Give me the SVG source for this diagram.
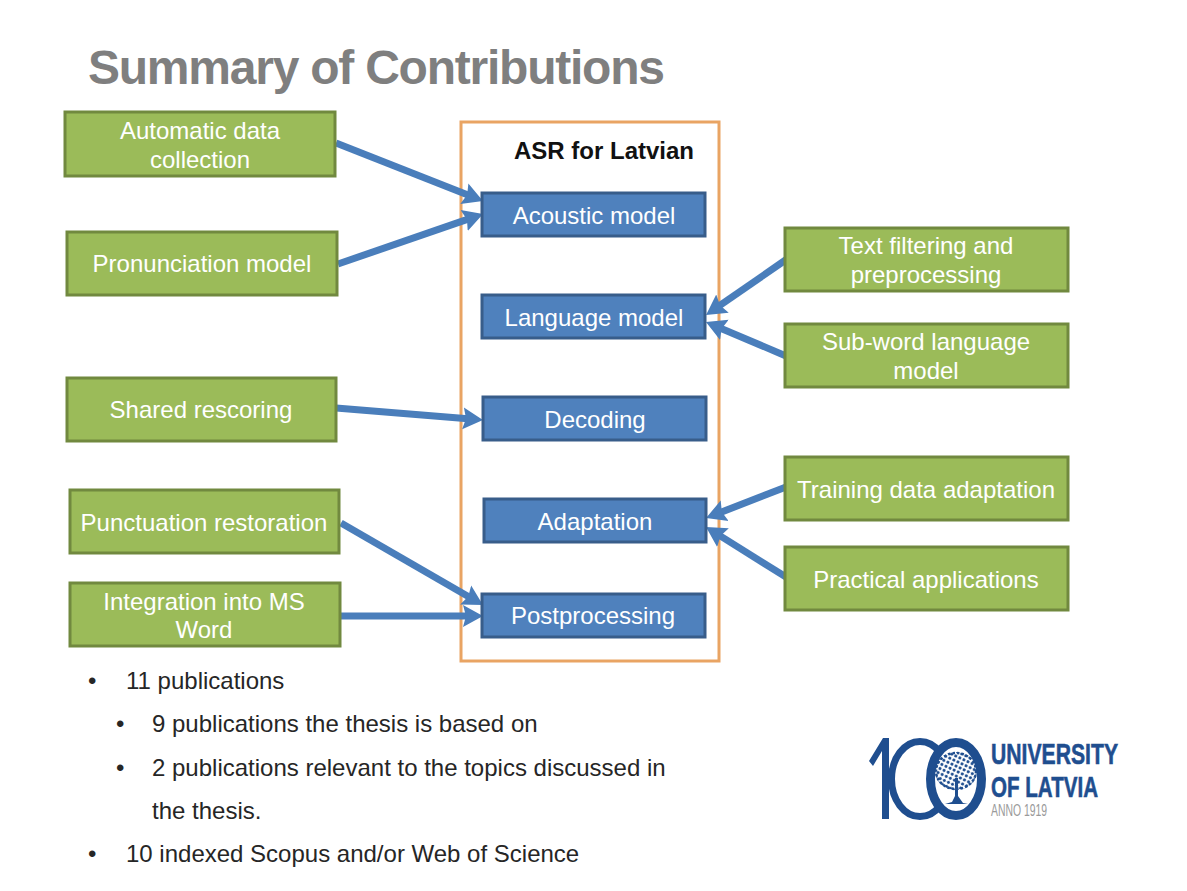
<svg xmlns="http://www.w3.org/2000/svg" width="1187" height="891" viewBox="0 0 1187 891">
<style>
text{font-family:"Liberation Sans",Arial,sans-serif}
.g{fill:#9bbb59;stroke:#71893f;stroke-width:3}
.b{fill:#4f81bd;stroke:#385d8a;stroke-width:3}
.wt{fill:#fff;font-size:24px;text-anchor:middle}
.bt{fill:#262626;font-size:24px}
.c{fill:none;stroke:#4a7ebb;stroke-width:7}
.lg{fill:#1f4e8f}
</style>
<defs>
<marker id="ah" markerUnits="userSpaceOnUse" markerWidth="24" markerHeight="26" refX="8" refY="12" orient="auto"><path d="M0 1L20 12L0 23L3 12Z" fill="#4a7ebb"/></marker>
<pattern id="leaf" width="4.5" height="4.5" patternUnits="userSpaceOnUse" patternTransform="rotate(25)"><circle cx="2.2" cy="2.2" r="1.55" fill="#1f4e8f"/></pattern>
</defs>
<rect width="1187" height="891" fill="#fff"/>
<text x="88" y="84" font-size="48" font-weight="700" fill="#7f7f7f" textLength="577" lengthAdjust="spacing">Summary of Contributions</text>
<g id="container"><rect x="461" y="122" width="258" height="539" fill="none" stroke="#e9a463" stroke-width="3"/><text x="604" y="159" font-size="24" font-weight="700" fill="#111" text-anchor="middle">ASR for Latvian</text></g>
<g id="connectors">
<line class="c" x1="336" y1="143" x2="471.8" y2="196.6" marker-end="url(#ah)"/>
<line class="c" x1="338" y1="264" x2="471.7" y2="217.9" marker-end="url(#ah)"/>
<line class="c" x1="336" y1="408" x2="471" y2="419" marker-end="url(#ah)"/>
<line class="c" x1="341" y1="523" x2="472.6" y2="599" marker-end="url(#ah)"/>
<line class="c" x1="341" y1="616" x2="471" y2="616" marker-end="url(#ah)"/>
<line class="c" x1="787" y1="259" x2="715.9" y2="308.2" marker-end="url(#ah)"/>
<line class="c" x1="786" y1="356" x2="717" y2="326.7" marker-end="url(#ah)"/>
<line class="c" x1="786" y1="487" x2="717.2" y2="513.7" marker-end="url(#ah)"/>
<line class="c" x1="786" y1="577" x2="716.2" y2="533.4" marker-end="url(#ah)"/>
</g>
<g id="n-auto"><rect class="g" x="65" y="112" width="270" height="64"/><text class="wt" x="200" y="139">Automatic data</text><text class="wt" x="200" y="168">collection</text></g>
<g id="n-pron"><rect class="g" x="67" y="232" width="270" height="63"/><text class="wt" x="202" y="272">Pronunciation model</text></g>
<g id="n-shared"><rect class="g" x="67" y="378" width="269" height="63"/><text class="wt" x="201" y="418">Shared rescoring</text></g>
<g id="n-punct"><rect class="g" x="70" y="490" width="269" height="63"/><text class="wt" x="204" y="531">Punctuation restoration</text></g>
<g id="n-word"><rect class="g" x="70" y="583" width="270" height="63"/><text class="wt" x="204" y="610">Integration into MS</text><text class="wt" x="204" y="638">Word</text></g>
<g id="n-text"><rect class="g" x="785" y="228" width="283" height="63"/><text class="wt" x="926" y="254">Text filtering and</text><text class="wt" x="926" y="283">preprocessing</text></g>
<g id="n-sub"><rect class="g" x="785" y="324" width="283" height="63"/><text class="wt" x="926" y="350">Sub-word language</text><text class="wt" x="926" y="379">model</text></g>
<g id="n-train"><rect class="g" x="785" y="457" width="283" height="63"/><text class="wt" x="926" y="498">Training data adaptation</text></g>
<g id="n-prac"><rect class="g" x="785" y="547" width="283" height="63"/><text class="wt" x="926" y="588">Practical applications</text></g>
<g id="n-ac"><rect class="b" x="482" y="193" width="223" height="43"/><text class="wt" x="594" y="224">Acoustic model</text></g>
<g id="n-lm"><rect class="b" x="482" y="295" width="223" height="43"/><text class="wt" x="594" y="326">Language model</text></g>
<g id="n-dec"><rect class="b" x="483" y="397" width="223" height="43"/><text class="wt" x="595" y="428">Decoding</text></g>
<g id="n-ad"><rect class="b" x="484" y="499" width="222" height="43"/><text class="wt" x="595" y="530">Adaptation</text></g>
<g id="n-post"><rect class="b" x="482" y="594" width="223" height="43"/><text class="wt" x="593" y="624">Postprocessing</text></g>
<g id="bullets">
<text class="bt" x="88" y="689">•</text><text class="bt" x="126" y="689">11 publications</text>
<text class="bt" x="116" y="732">•</text><text class="bt" x="152" y="732">9 publications the thesis is based on</text>
<text class="bt" x="116" y="776">•</text><text class="bt" x="152" y="776">2 publications relevant to the topics discussed in</text>
<text class="bt" x="152" y="819">the thesis.</text>
<text class="bt" x="88" y="862">•</text><text class="bt" x="126" y="862">10 indexed Scopus and/or Web of Science</text>
</g>
<g id="logo">
<path class="lg" d="M869 761L883 738H889V819H882V751L873 766Z"/>
<ellipse cx="920" cy="779" rx="28.5" ry="37.5" fill="none" stroke="#1f4e8f" stroke-width="7"/>
<ellipse cx="956" cy="779" rx="25.5" ry="36.5" fill="#fff" stroke="#1f4e8f" stroke-width="9"/>
<ellipse cx="956" cy="771" rx="21" ry="19" fill="url(#leaf)"/>
<ellipse cx="956" cy="771" rx="20" ry="18" fill="none" stroke="#1f4e8f" stroke-width="2.5" stroke-dasharray="2.5 2"/>
<path class="lg" d="M955 778L958 778L958 796L963 803L968 804H945L952 802L955 796Z"/>
<text x="991" y="764" font-size="30" font-weight="700" fill="#1f4e8f" stroke="#1f4e8f" stroke-width=".6" textLength="127" lengthAdjust="spacingAndGlyphs">UNIVERSITY</text>
<text x="991" y="797" font-size="30" font-weight="700" fill="#1f4e8f" stroke="#1f4e8f" stroke-width=".6" textLength="107" lengthAdjust="spacingAndGlyphs">OF LATVIA</text>
<text x="991" y="816" font-size="17" fill="#9a9a9a" textLength="56" lengthAdjust="spacingAndGlyphs">ANNO 1919</text>
</g>
</svg>
